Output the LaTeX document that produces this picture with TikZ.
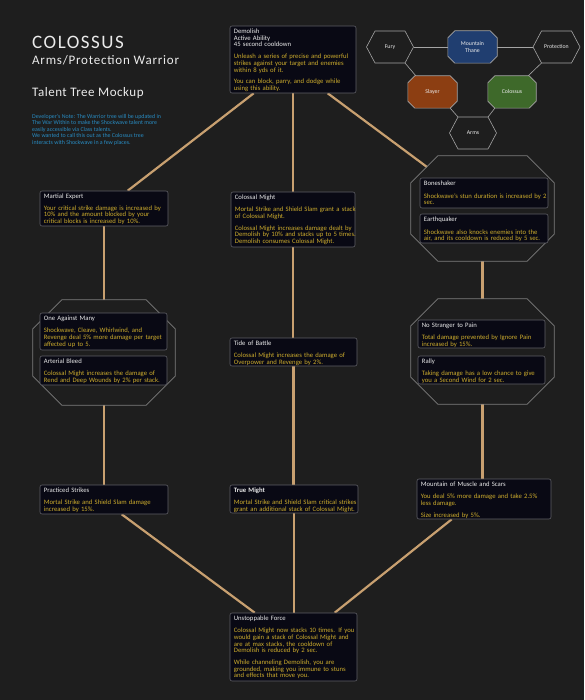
\documentclass[tikz,border=0pt]{standalone}
\usepackage{fontspec}
\setmainfont{Carlito}
\usetikzlibrary{calc,backgrounds,fit}
\definecolor{pagebg}{RGB}{30,30,30}
\definecolor{boxfill}{RGB}{9,9,20}
\definecolor{boxline}{RGB}{95,95,102}
\definecolor{tgold}{RGB}{205,172,45}
\definecolor{twhite}{RGB}{235,235,235}
\definecolor{linkc}{RGB}{200,160,112}
\definecolor{octline}{RGB}{125,125,125}
\definecolor{notec}{RGB}{40,140,195}
\definecolor{thane}{RGB}{32,62,112}
\definecolor{slayer}{RGB}{140,62,18}
\definecolor{colossusg}{RGB}{62,105,42}
\definecolor{hexline}{RGB}{165,165,165}
\tikzset{
 tbox/.style={draw=boxline, fill=boxfill, rounded corners=2pt, line width=0.6pt, inner sep=0pt},
 ttext/.style={anchor=north west, inner sep=0pt, text width=150pt, align=left, font=\fontsize{6.7}{6.7}\selectfont, text=tgold},
 tanlink/.style={draw=linkc, line width=2.2pt},
 octo/.style={draw=octline, line width=0.7pt},
 gline/.style={draw=hexline, line width=0.6pt},
 glabel/.style={font=\fontsize{5.8}{6.6}\selectfont, text=twhite, align=center, inner sep=0pt},
 frame/.style={inner sep=0pt},
}
\newcommand{\talent}[6]{%
 \node[tbox, fit={(#2,#3) (#4,#5)}] (#1) {};
 \node[ttext] (#1-text) at ([shift={(4,3)}]#1.north west) {#6};
}
\newcommand{\octa}[7]{%
 \node[frame, fit={(#2,#3) (#4,#5)}] (#1) {};
 \path[#7] ([shift={(#6,0)}]#1.north west) -- ([shift={(-#6,0)}]#1.north east) -- ([shift={(0,#6)}]#1.north east) -- ([shift={(0,-#6)}]#1.south east) -- ([shift={(-#6,0)}]#1.south east) -- ([shift={(#6,0)}]#1.south west) -- ([shift={(0,-#6)}]#1.south west) -- ([shift={(0,#6)}]#1.north west) -- cycle;
}
\newcommand{\hexa}[5]{%
 \node[frame, minimum width=47pt, minimum height=32pt] (#1) at (#2,#3) {};
 \path[#4] ([shift={(-23.5,0)}]#1.center) -- ([shift={(-15,-16)}]#1.center) -- ([shift={(15,-16)}]#1.center) -- ([shift={(23.5,0)}]#1.center) -- ([shift={(15,16)}]#1.center) -- ([shift={(-15,16)}]#1.center) -- cycle;
 \node[glabel] (#1-label) at (#1.center) {#5};
}
\newcommand{\ttl}[1]{\textcolor{twhite}{#1}}
\begin{document}
\begin{tikzpicture}[x=1pt, y=-1pt]
\useasboundingbox (0,0) rectangle (584,700);
\begin{scope}[on background layer]
\fill[pagebg] (0,0) rectangle (584,700);
\end{scope}

% titles
\node[anchor=base west, inner sep=0pt, text=twhite, font={\fontsize{19}{19}\selectfont\addfontfeature{LetterSpace=8}}] (title) at (32,48.3) {COLOSSUS};
\node[anchor=base west, inner sep=0pt, text=twhite, font={\fontsize{13}{13}\selectfont\addfontfeature{LetterSpace=6}}] (subtitle) at (32,65) {Arms/Protection Warrior};
\node[anchor=base west, inner sep=0pt, text=twhite, font={\fontsize{13}{13}\selectfont\addfontfeature{LetterSpace=4}}] (mockup) at (32,96.7) {Talent Tree Mockup};
\node[anchor=north west, inner sep=0pt, align=left, text=notec, font=\fontsize{5.9}{6.5}\selectfont] (devnote) at (32,114) {Developer's Note: The Warrior tree will be updated in\\The War Within to make the Shockwave talent more\\easily accessible via Class talents.\\We wanted to call this out as the Colossus tree\\interacts with Shockwave in a few places.};

% hero graph
\hexa{fury}{390}{47}{gline, fill=pagebg}{Fury}
\hexa{prot}{556.5}{47}{gline, fill=pagebg}{Protection}
\hexa{arms}{473}{133}{gline, fill=pagebg}{Arms}
\octa{thane}{448}{31}{497}{63}{7}{gline, fill=thane}
\node[glabel] (thane-label) at (thane.center) {Mountain\\Thane};
\octa{slayer}{408}{76}{457}{108}{7}{gline, fill=slayer}
\node[glabel] (slayer-label) at (slayer.center) {Slayer};
\octa{colossus}{488}{76}{536}{108}{7}{gline, fill=colossusg}
\node[glabel] (colossus-label) at (colossus.center) {Colossus};
\draw[gline] (fury.east) -- (thane.west);
\draw[gline] (prot.west) -- (thane.east);
\draw[gline] ([shift={(15,16)}]fury.center) -- ([shift={(8,0)}]slayer.north west);
\draw[gline] ([shift={(-15,16)}]prot.center) -- ([shift={(-8,0)}]colossus.north east);
\draw[gline] ([shift={(-7,0)}]slayer.south east) -- ([shift={(-15,-16)}]arms.center);
\draw[gline] ([shift={(7,0)}]colossus.south west) -- ([shift={(15,-16)}]arms.center);

% octagon groups
\octa{octL}{33}{300}{175}{405}{29}{octo}
\octa{octR1}{411}{156}{554}{261}{27}{octo}
\octa{octR2}{411}{299}{554}{404}{27}{octo}
\coordinate (octR1in) at (427,167);

% talents
\talent{demolish}{230}{26}{356}{93}{\ttl{Demolish\\Active Ability\\45 second cooldown}\\[5pt]Unleash a series of precise and powerful\\strikes against your target and enemies\\within 8 yds of it.\\[5pt]You can block, parry, and dodge while\\using this ability.}
\talent{martial}{40}{191}{168}{226}{\ttl{Martial Expert}\\[5pt]Your critical strike damage is increased by\\10\% and the amount blocked by your\\critical blocks is increased by 10\%.}
\talent{colmight}{231}{192}{355}{247}{\ttl{Colossal Might}\\[5.5pt]Mortal Strike and Shield Slam grant a stack\\of Colossal Might.\\[5pt]Colossal Might increases damage dealt by\\Demolish by 10\% and stacks up to 5 times.\\Demolish consumes Colossal Might.}
\talent{boneshaker}{420}{178}{548}{208}{\ttl{Boneshaker}\\[6pt]Shockwave's stun duration is increased by 2\\sec.}
\talent{earthquaker}{420}{214}{548}{243}{\ttl{Earthquaker}\\[6pt]Shockwave also knocks enemies into the\\air, and its cooldown is reduced by 5 sec.}
\talent{oneagainst}{40}{313}{167}{350}{\ttl{One Against Many}\\[5.5pt]Shockwave, Cleave, Whirlwind, and\\Revenge deal 5\% more damage per target\\affected up to 5.}
\talent{arterial}{40}{356}{167}{385}{\ttl{Arterial Bleed}\\[5.5pt]Colossal Might increases the damage of\\Rend and Deep Wounds by 2\% per stack.}
\talent{tide}{230}{338}{357}{366}{\ttl{Tide of Battle}\\[5.5pt]Colossal Might increases the damage of\\Overpower and Revenge by 2\%.}
\talent{nostranger}{418}{320}{545}{348}{\ttl{No Stranger to Pain}\\[5.5pt]Total damage prevented by Ignore Pain\\increased by 15\%.}
\talent{rally}{418}{356}{545}{384}{\ttl{Rally}\\[5.5pt]Taking damage has a low chance to give\\you a Second Wind for 2 sec.}
\talent{practiced}{40}{485}{168}{514}{\ttl{Practiced Strikes}\\[5.5pt]Mortal Strike and Shield Slam damage\\increased by 15\%.}
\talent{truemight}{230}{485}{358}{513}{\ttl{\textbf{True Might}}\\[5pt]Mortal Strike and Shield Slam critical strikes\\grant an additional stack of Colossal Might.}
\talent{mountain}{417}{479}{551}{519}{\ttl{Mountain of Muscle and Scars}\\[5.5pt]You deal 5\% more damage and take 2.5\%\\less damage.\\[5pt]Size increased by 5\%.}
\talent{unstoppable}{230}{613}{357}{681}{\ttl{Unstoppable Force}\\[5.5pt]Colossal Might now stacks 10 times. If you\\would gain a stack of Colossal Might and\\are at max stacks, the cooldown of\\Demolish is reduced by 2 sec.\\[5pt]While channeling Demolish, you are\\grounded, making you immune to stuns\\and effects that move you.}

% connectors
\begin{scope}[on background layer]
\draw[tanlink] ([shift={(24,0)}]demolish.south west) -- ([shift={(88,0)}]martial.north west);
\draw[tanlink] (demolish.south) -- (demolish.south |- colmight.north);
\draw[tanlink] ([shift={(98,0)}]demolish.south west) -- (octR1in);
\draw[tanlink] (martial.south) -- (martial.south |- octL.north);
\draw[tanlink] (octL.south) -- (octL.south |- practiced.north);
\draw[tanlink] (colmight.south) -- (colmight.south |- tide.north);
\draw[tanlink] (tide.south) -- (tide.south |- truemight.north);
\draw[tanlink] (octR1.south) -- (octR2.north);
\draw[tanlink] (octR2.south) -- (octR2.south |- mountain.north);
\draw[tanlink] ([shift={(82,0)}]practiced.south west) -- ([shift={(25,0)}]unstoppable.north west);
\draw[tanlink] (truemight.south) -- (truemight.south |- unstoppable.north);
\draw[tanlink] ([shift={(35,0)}]mountain.south west) -- ([shift={(105,0)}]unstoppable.north west);
\end{scope}
\end{tikzpicture}
\end{document}
